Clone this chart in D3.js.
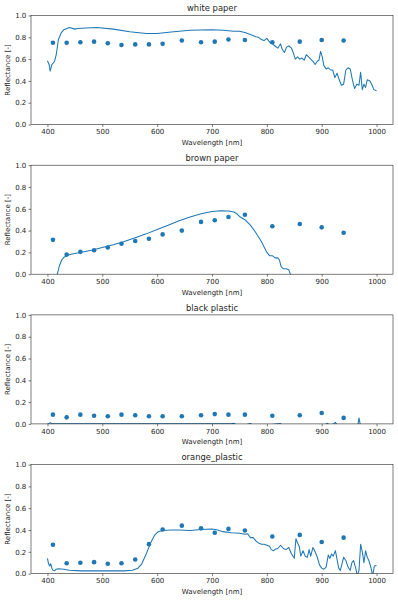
<!DOCTYPE html>
<meta charset="utf-8">
<style>
  body { margin: 0; background: #fff; }
  text { font-family: "DejaVu Sans", sans-serif; fill: #262626; }
  .tick line { stroke: #262626; stroke-width: 0.6; }
  .domain { stroke: none; }
  .frame { fill: none; stroke: #262626; stroke-width: 0.6; }
</style>
<script src="https://d3js.org/d3.v7.min.js"></script>
<div id="my_dataviz"></div>
<script>

// sensor channel wavelengths (nm) for the dots
var channels = [410, 435, 460, 485, 510, 535, 560, 585, 610, 645, 680, 705, 730, 760, 810, 860, 900, 940];

var titles = ["white paper", "brown paper", "black plastic", "orange_plastic"];

// sensor reflectance (dots)
var whiteDots = [0.75, 0.75, 0.755, 0.76, 0.745, 0.73, 0.735, 0.735, 0.74, 0.77, 0.755, 0.76, 0.78, 0.775, 0.755, 0.76, 0.775, 0.77];
var brownDots = [0.315, 0.18, 0.205, 0.22, 0.245, 0.28, 0.305, 0.325, 0.365, 0.40, 0.48, 0.495, 0.525, 0.545, 0.44, 0.46, 0.43, 0.38];
var blackDots = [0.085, 0.06, 0.085, 0.075, 0.07, 0.085, 0.08, 0.07, 0.07, 0.07, 0.08, 0.09, 0.085, 0.085, 0.075, 0.08, 0.10, 0.055];
var orangeDots = [0.265, 0.095, 0.10, 0.105, 0.09, 0.095, 0.13, 0.27, 0.405, 0.44, 0.415, 0.375, 0.41, 0.395, 0.34, 0.355, 0.29, 0.33];

// spectrometer reference (lines)
var whiteWl = [400, 403, 405, 408, 410, 413, 416, 420, 425, 430, 440, 450, 455, 470, 490, 520, 550, 580, 600, 630, 660, 700, 720, 740, 750, 760, 770, 780, 785, 790, 795, 800, 803, 806, 810, 815, 820, 825, 828, 832, 836, 840, 845, 848, 852, 856, 860, 864, 868, 872, 876, 880, 884, 888, 892, 895, 898, 901, 904, 908, 912, 916, 920, 924, 928, 932, 936, 940, 944, 948, 952, 956, 960, 964, 968, 971, 974, 977, 980, 983, 988, 992, 995, 1000];
var whiteLine = [0.585, 0.55, 0.49, 0.55, 0.56, 0.58, 0.64, 0.78, 0.84, 0.87, 0.89, 0.875, 0.88, 0.885, 0.89, 0.875, 0.85, 0.835, 0.835, 0.85, 0.865, 0.87, 0.865, 0.855, 0.855, 0.845, 0.825, 0.805, 0.80, 0.78, 0.77, 0.79, 0.77, 0.75, 0.74, 0.72, 0.70, 0.74, 0.69, 0.66, 0.71, 0.72, 0.70, 0.66, 0.60, 0.62, 0.60, 0.61, 0.59, 0.64, 0.62, 0.60, 0.58, 0.55, 0.58, 0.59, 0.67, 0.62, 0.54, 0.51, 0.52, 0.50, 0.50, 0.43, 0.47, 0.41, 0.36, 0.37, 0.50, 0.52, 0.51, 0.41, 0.33, 0.37, 0.36, 0.48, 0.32, 0.37, 0.34, 0.41, 0.40, 0.36, 0.32, 0.31];

var brownWl = [400, 410, 418, 422, 426, 430, 435, 445, 460, 480, 500, 520, 540, 560, 580, 600, 620, 640, 660, 680, 700, 715, 730, 740, 745, 750, 760, 770, 780, 790, 795, 800, 805, 810, 815, 820, 823, 826, 830, 835, 840, 843, 848, 870, 920, 1000];
var brownLine = [-0.3, -0.12, 0.0, 0.08, 0.13, 0.155, 0.17, 0.185, 0.2, 0.22, 0.245, 0.27, 0.3, 0.335, 0.37, 0.41, 0.45, 0.49, 0.525, 0.555, 0.575, 0.582, 0.58, 0.57, 0.555, 0.53, 0.5, 0.45, 0.38, 0.3, 0.25, 0.2, 0.17, 0.17, 0.15, 0.15, 0.13, 0.07, 0.05, 0.05, 0.04, 0.0, -0.1, -0.2, -0.3, -0.3];

var blackWl = [400, 403, 405, 407, 410, 450, 500, 550, 600, 650, 700, 735, 740, 745, 760, 770, 775, 800, 825, 828, 860, 905, 910, 915, 922, 925, 928, 960, 966, 968, 970, 972, 1000];
var blackLine = [0.0, 0.004, 0.012, 0.004, 0.002, 0.002, 0.002, 0.002, 0.002, 0.002, 0.002, 0.002, 0.005, -0.01, -0.01, 0.003, -0.01, -0.01, 0.003, -0.01, -0.01, -0.01, 0.005, -0.01, 0.0, 0.015, -0.01, -0.01, -0.01, 0.055, 0.0, -0.01, -0.01];

var orangeWl = [400, 402, 404, 406, 408, 410, 413, 416, 420, 430, 440, 460, 500, 540, 555, 565, 572, 580, 588, 595, 602, 610, 625, 640, 660, 680, 700, 710, 720, 735, 750, 760, 765, 770, 775, 780, 785, 790, 795, 800, 805, 808, 812, 816, 820, 825, 830, 835, 840, 845, 850, 853, 856, 859, 862, 866, 870, 874, 877, 880, 884, 888, 892, 896, 900, 904, 908, 912, 915, 918, 921, 925, 928, 931, 934, 937, 940, 944, 948, 952, 955, 958, 962, 965, 968, 971, 974, 977, 980, 983, 986, 990, 993, 996, 1000];
var orangeLine = [0.14, 0.09, 0.07, 0.09, 0.05, 0.03, 0.025, 0.04, 0.045, 0.04, 0.03, 0.025, 0.025, 0.025, 0.03, 0.05, 0.09, 0.18, 0.28, 0.35, 0.385, 0.395, 0.40, 0.40, 0.395, 0.405, 0.41, 0.40, 0.385, 0.375, 0.37, 0.36, 0.365, 0.33, 0.33, 0.30, 0.28, 0.27, 0.27, 0.26, 0.25, 0.22, 0.21, 0.225, 0.23, 0.26, 0.23, 0.22, 0.24, 0.18, 0.14, 0.32, 0.28, 0.25, 0.16, 0.21, 0.16, 0.15, 0.22, 0.16, 0.24, 0.2, 0.15, 0.08, 0.05, 0.04, 0.06, 0.17, 0.14, 0.18, 0.16, 0.21, 0.13, 0.05, 0.03, 0.09, 0.15, 0.12, 0.06, 0.03, 0.10, 0.12, 0.05, -0.02, 0.03, 0.27, 0.20, 0.10, 0.21, 0.15, 0.12, 0.05, -0.02, 0.07, 0.075];

var dotSets = [whiteDots, brownDots, blackDots, orangeDots];
var lineWls = [whiteWl, brownWl, blackWl, orangeWl];
var lineSets = [whiteLine, brownLine, blackLine, orangeLine];

var xTicks = [400, 500, 600, 700, 800, 900, 1000];
var yTicks = [0.0, 0.2, 0.4, 0.6, 0.8, 1.0];

// layout
var W = 398, H = 600;
var left = 31, right = 393, plotH = 109, top0 = 15.5, step = 149.7;
var blue = "#1f77b4";

var svg = d3.select("#my_dataviz")
  .append("svg")
    .attr("width", W)
    .attr("height", H);

var x = d3.scaleLinear().domain([370, 1030]).range([left, right]);
var y = d3.scaleLinear().domain([0, 1]).range([plotH, 0]);

titles.forEach(function(title, i) {
  var g = svg.append("g")
    .attr("transform", "translate(0," + (top0 + i * step) + ")");

  g.append("clipPath")
    .attr("id", "clip" + i)
    .append("rect")
      .attr("x", left).attr("y", 0)
      .attr("width", right - left).attr("height", plotH);

  // axes
  var xa = g.append("g")
    .attr("transform", "translate(0," + plotH + ")")
    .call(d3.axisBottom(x).tickValues(xTicks).tickSize(2.5).tickPadding(2.2).tickFormat(d3.format("d")));
  var ya = g.append("g")
    .attr("transform", "translate(" + left + ",0)")
    .call(d3.axisLeft(y).tickValues(yTicks).tickSize(2.5).tickPadding(2.2).tickFormat(d3.format(".1f")));
  g.selectAll(".tick text").style("font-size", "7px").attr("fill", "#262626");

  // spectrometer line
  var pts = lineWls[i].map(function(w, k) { return [w, lineSets[i][k]]; });
  var line = d3.line()
    .x(function(d) { return x(d[0]); })
    .y(function(d) { return y(d[1]); });
  g.append("path")
    .datum(pts)
    .attr("clip-path", "url(#clip" + i + ")")
    .attr("d", line)
    .style("fill", "none")
    .style("stroke", blue)
    .style("stroke-width", 1.05)
    .style("stroke-linejoin", "round");

  // sensor dots
  g.selectAll("myDots")
    .data(channels)
    .enter()
    .append("circle")
      .attr("cx", function(d) { return x(d); })
      .attr("cy", function(d, k) { return y(dotSets[i][k]); })
      .attr("r", 2.3)
      .style("fill", blue);

  g.append("rect")
    .attr("class", "frame")
    .attr("x", left).attr("y", 0)
    .attr("width", right - left).attr("height", plotH);

  // title and labels
  g.append("text")
    .attr("x", (left + right) / 2)
    .attr("y", -4.2)
    .attr("text-anchor", "middle")
    .style("font-size", "8.4px")
    .text(title);

  g.append("text")
    .attr("x", (left + right) / 2)
    .attr("y", plotH + 20.5)
    .attr("text-anchor", "middle")
    .style("font-size", "7px")
    .text("Wavelength [nm]");

  g.append("text")
    .attr("transform", "translate(9.8," + (plotH / 2) + ") rotate(-90)")
    .attr("text-anchor", "middle")
    .style("font-size", "7px")
    .text("Reflectance [-]");
});

</script>
